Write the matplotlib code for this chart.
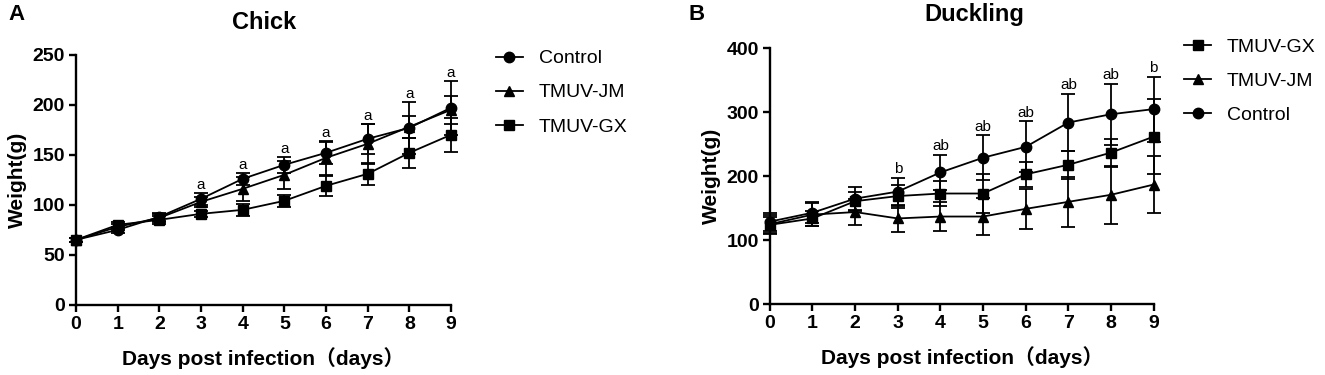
import matplotlib
matplotlib.use("Agg")
import matplotlib.pyplot as plt
from matplotlib.lines import Line2D

plt.rcParams["font.family"] = ["Liberation Sans", "Noto Sans CJK SC", "DejaVu Sans"]

days = [0, 1, 2, 3, 4, 5, 6, 7, 8, 9]

# Chick (panel A)
chick_control = [65, 75, 88, 106, 126, 140, 152, 166, 177, 197]
chick_control_sd = [2, 3, 4, 6, 6, 8, 11, 15, 26, 27]
chick_jm = [65, 78, 87, 103, 116, 130, 147, 161, 178, 195]
chick_jm_sd = [2, 3, 4, 5, 12, 14, 17, 20, 11, 14]
chick_gx = [65, 80, 85, 91, 95, 104, 119, 131, 152, 170]
chick_gx_sd = [2, 3, 4, 3, 6, 6, 10, 11, 15, 17]
chick_labels = ["", "", "", "a", "a", "a", "a", "a", "a", "a"]

# Duckling (panel B)
duck_gx = [124, 134, 161, 169, 173, 173, 203, 218, 237, 262]
duck_gx_sd = [12, 12, 15, 18, 20, 30, 20, 22, 22, 59]
duck_jm = [125, 140, 144, 134, 137, 137, 149, 160, 171, 187]
duck_jm_sd = [15, 18, 20, 21, 23, 29, 31, 39, 45, 44]
duck_control = [129, 143, 165, 176, 206, 229, 246, 284, 297, 305]
duck_control_sd = [14, 16, 18, 22, 28, 35, 40, 45, 48, 51]
duck_labels = ["", "", "", "b", "ab", "ab", "ab", "ab", "ab", "b"]

fig = plt.figure(figsize=(13.25, 3.75), dpi=100)


def style_axis(ax, ymax, ystep):
    ax.set_xlim(0, 9)
    ax.set_ylim(0, ymax)
    ax.set_xticks(days)
    ax.set_yticks(range(0, ymax + 1, ystep))
    for s in ["top", "right"]:
        ax.spines[s].set_visible(False)
    for s in ["left", "bottom"]:
        ax.spines[s].set_linewidth(1.7)
    ax.tick_params(direction="out", length=5, width=1.7, labelsize=14, pad=3)
    for lab in ax.get_xticklabels() + ax.get_yticklabels():
        lab.set_fontweight("bold")
    ax.set_xlabel("Days post infection（days）", fontsize=15, fontweight="bold", labelpad=10)
    ax.set_ylabel("Weight(g)", fontsize=15, fontweight="bold", labelpad=4)


def draw_series(ax, y, sd, marker, ms):
    ax.errorbar(days, y, yerr=sd, color="black", marker=marker, markersize=ms,
                linewidth=1.3, elinewidth=1.3, capsize=5, capthick=1.3, clip_on=False, zorder=3)


def add_letters(ax, tops, labels, off):
    for d, t, lab in zip(days, tops, labels):
        if lab:
            ax.text(d, t + off, lab, ha="center", va="bottom", fontsize=11)


# panel A
axA = fig.add_axes([0.0574, 0.187, 0.283, 0.667])
draw_series(axA, chick_control, chick_control_sd, "o", 7.5)
draw_series(axA, chick_jm, chick_jm_sd, "^", 7.5)
draw_series(axA, chick_gx, chick_gx_sd, "s", 7)
style_axis(axA, 250, 50)
topsA = [max(a + b, c + d, e + f) for a, b, c, d, e, f in
         zip(chick_control, chick_control_sd, chick_jm, chick_jm_sd, chick_gx, chick_gx_sd)]
add_letters(axA, topsA, chick_labels, 1)
fig.text(0.199, 0.941, "Chick", fontsize=17, fontweight="bold", ha="center", va="center")
handlesA = [Line2D([], [], color="black", marker=m, markersize=ms, linewidth=1.3)
            for m, ms in [("o", 7.5), ("^", 7.5), ("s", 7)]]
fig.legend(handlesA, ["Control", "TMUV-JM", "TMUV-GX"], loc="upper left",
           bbox_to_anchor=(0.361, 0.914), frameon=False, fontsize=14,
           handlelength=1.4, labelspacing=0.85, handletextpad=0.8)
fig.text(0.006, 0.96, "A", fontsize=16, fontweight="bold", va="center")

# panel B
axB = fig.add_axes([0.581, 0.189, 0.2897, 0.682])
draw_series(axB, duck_gx, duck_gx_sd, "s", 7)
draw_series(axB, duck_jm, duck_jm_sd, "^", 7.5)
draw_series(axB, duck_control, duck_control_sd, "o", 7.5)
style_axis(axB, 400, 100)
topsB = [max(a + b, c + d, e + f) for a, b, c, d, e, f in
         zip(duck_control, duck_control_sd, duck_jm, duck_jm_sd, duck_gx, duck_gx_sd)]
add_letters(axB, topsB, duck_labels, 2)
fig.text(0.735, 0.96, "Duckling", fontsize=17, fontweight="bold", ha="center", va="center")
handlesB = [Line2D([], [], color="black", marker=m, markersize=ms, linewidth=1.3)
            for m, ms in [("s", 7), ("^", 7.5), ("o", 7.5)]]
fig.legend(handlesB, ["TMUV-GX", "TMUV-JM", "Control"], loc="upper left",
           bbox_to_anchor=(0.8805, 0.945), frameon=False, fontsize=14,
           handlelength=1.4, labelspacing=0.85, handletextpad=0.8)
fig.text(0.520, 0.96, "B", fontsize=16, fontweight="bold", va="center")

fig.savefig("out.png", dpi=100)
